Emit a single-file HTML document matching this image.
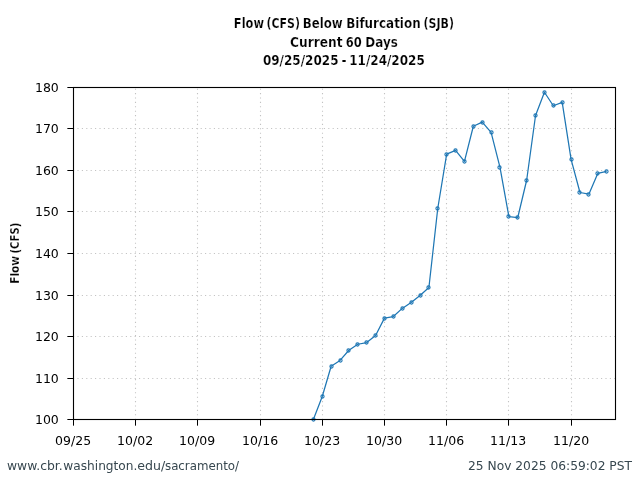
<!DOCTYPE html>
<html lang="en">
<head>
<meta charset="utf-8">
<title>Flow (CFS) Below Bifurcation (SJB)</title>
<style>
html,body{margin:0;padding:0;background:#fff;}
body{width:640px;height:480px;overflow:hidden;}
svg{display:block;}
.tick{font-family:"DejaVu Sans","Liberation Sans",sans-serif;font-size:12.5px;fill:#000;}
.ttl{font-family:"DejaVu Sans Condensed","DejaVu Sans","Liberation Sans",sans-serif;font-stretch:condensed;font-weight:bold;font-size:13.8px;fill:#000;stroke:#fff;stroke-width:0.2px;}
.foot{font-family:"DejaVu Sans","Liberation Sans",sans-serif;font-size:12.0px;fill:#37474f;}
</style>
</head>
<body>
<svg width="640" height="480" viewBox="0 0 640 480">
<rect width="640" height="480" fill="#fff"/>

<g stroke="#c2c2c2" stroke-width="1.1" stroke-dasharray="1.1 3.3" fill="none">
<path d="M135.5 419.75 V87.5"/>
<path d="M197.5 419.75 V87.5"/>
<path d="M260.5 419.75 V87.5"/>
<path d="M322.5 419.75 V87.5"/>
<path d="M384.5 419.75 V87.5"/>
<path d="M446.5 419.75 V87.5"/>
<path d="M508.5 419.75 V87.5"/>
<path d="M571.5 419.75 V87.5"/>
<path d="M73.05 378.5 H615.5"/>
<path d="M73.05 336.5 H615.5"/>
<path d="M73.05 295.5 H615.5"/>
<path d="M73.05 253.5 H615.5"/>
<path d="M73.05 211.5 H615.5"/>
<path d="M73.05 170.5 H615.5"/>
<path d="M73.05 128.5 H615.5"/>
</g>
<clipPath id="c"><rect x="73.5" y="87.5" width="542.0" height="332.0"/></clipPath>
<g clip-path="url(#c)"><polyline points="313.36,419.50 322.25,396.47 331.14,366.26 340.03,360.40 348.91,350.24 357.80,344.26 366.69,342.52 375.57,335.50 384.46,318.12 393.35,316.58 402.23,308.40 411.12,302.51 420.01,295.50 428.90,287.53 437.78,208.26 446.67,154.11 455.56,150.37 464.44,161.37 473.33,126.26 482.22,122.11 491.10,132.32 499.99,167.39 508.88,216.56 517.76,217.52 526.65,180.25 535.54,115.51 544.43,92.27 553.31,105.76 562.20,102.44 571.09,159.42 579.97,192.50 588.86,194.15 597.75,173.40 606.63,171.33" fill="none" stroke="#1f77b4" stroke-width="1.25" stroke-linejoin="round"/>
</g>
<g fill="none" stroke="#1f77b4" stroke-width="1.1">
<circle cx="313.5" cy="419.5" r="1.6"/>
<circle cx="322.5" cy="396.5" r="1.6"/>
<circle cx="331.5" cy="366.5" r="1.6"/>
<circle cx="340.5" cy="360.5" r="1.6"/>
<circle cx="348.5" cy="350.5" r="1.6"/>
<circle cx="357.5" cy="344.5" r="1.6"/>
<circle cx="366.5" cy="342.5" r="1.6"/>
<circle cx="375.5" cy="335.5" r="1.6"/>
<circle cx="384.5" cy="318.5" r="1.6"/>
<circle cx="393.5" cy="316.5" r="1.6"/>
<circle cx="402.5" cy="308.5" r="1.6"/>
<circle cx="411.5" cy="302.5" r="1.6"/>
<circle cx="420.5" cy="295.5" r="1.6"/>
<circle cx="428.5" cy="287.5" r="1.6"/>
<circle cx="437.5" cy="208.5" r="1.6"/>
<circle cx="446.5" cy="154.5" r="1.6"/>
<circle cx="455.5" cy="150.5" r="1.6"/>
<circle cx="464.5" cy="161.5" r="1.6"/>
<circle cx="473.5" cy="126.5" r="1.6"/>
<circle cx="482.5" cy="122.5" r="1.6"/>
<circle cx="491.5" cy="132.5" r="1.6"/>
<circle cx="499.5" cy="167.5" r="1.6"/>
<circle cx="508.5" cy="216.5" r="1.6"/>
<circle cx="517.5" cy="217.5" r="1.6"/>
<circle cx="526.5" cy="180.5" r="1.6"/>
<circle cx="535.5" cy="115.5" r="1.6"/>
<circle cx="544.5" cy="92.5" r="1.6"/>
<circle cx="553.5" cy="105.5" r="1.6"/>
<circle cx="562.5" cy="102.5" r="1.6"/>
<circle cx="571.5" cy="159.5" r="1.6"/>
<circle cx="579.5" cy="192.5" r="1.6"/>
<circle cx="588.5" cy="194.5" r="1.6"/>
<circle cx="597.5" cy="173.5" r="1.6"/>
<circle cx="606.5" cy="171.5" r="1.6"/>
</g>
<rect x="73.5" y="87.5" width="542.0" height="332.0" fill="none" stroke="#000" stroke-width="1.11"/>
<g stroke="#000" stroke-width="1.05">
<path d="M73.5 419.5 v6.15"/>
<path d="M135.5 419.5 v6.15"/>
<path d="M197.5 419.5 v6.15"/>
<path d="M260.5 419.5 v6.15"/>
<path d="M322.5 419.5 v6.15"/>
<path d="M384.5 419.5 v6.15"/>
<path d="M446.5 419.5 v6.15"/>
<path d="M508.5 419.5 v6.15"/>
<path d="M571.5 419.5 v6.15"/>
<path d="M73.5 419.5 h-6.15"/>
<path d="M73.5 378.5 h-6.15"/>
<path d="M73.5 336.5 h-6.15"/>
<path d="M73.5 295.5 h-6.15"/>
<path d="M73.5 253.5 h-6.15"/>
<path d="M73.5 211.5 h-6.15"/>
<path d="M73.5 170.5 h-6.15"/>
<path d="M73.5 128.5 h-6.15"/>
<path d="M73.5 87.5 h-6.15"/>
</g>
<text class="tick" x="73.10" y="445" text-anchor="middle">09/25</text>
<text class="tick" x="135.10" y="445" text-anchor="middle">10/02</text>
<text class="tick" x="197.10" y="445" text-anchor="middle">10/09</text>
<text class="tick" x="260.10" y="445" text-anchor="middle">10/16</text>
<text class="tick" x="322.10" y="445" text-anchor="middle">10/23</text>
<text class="tick" x="384.10" y="445" text-anchor="middle">10/30</text>
<text class="tick" x="446.10" y="445" text-anchor="middle">11/06</text>
<text class="tick" x="508.10" y="445" text-anchor="middle">11/13</text>
<text class="tick" x="571.10" y="445" text-anchor="middle">11/20</text>
<text class="tick" x="58.8" y="424.10" text-anchor="end">100</text>
<text class="tick" x="58.8" y="383.10" text-anchor="end">110</text>
<text class="tick" x="58.8" y="341.10" text-anchor="end">120</text>
<text class="tick" x="58.8" y="300.10" text-anchor="end">130</text>
<text class="tick" x="58.8" y="258.10" text-anchor="end">140</text>
<text class="tick" x="58.8" y="216.10" text-anchor="end">150</text>
<text class="tick" x="58.8" y="175.10" text-anchor="end">160</text>
<text class="tick" x="58.8" y="133.10" text-anchor="end">170</text>
<text class="tick" x="58.8" y="92.10" text-anchor="end">180</text>
<text class="ttl" y="27.65"><tspan x="233.86" textLength="30.18" lengthAdjust="spacingAndGlyphs">Flow</tspan> <tspan x="266.51" textLength="33.48" lengthAdjust="spacingAndGlyphs">(CFS)</tspan> <tspan x="302.68" textLength="40.00" lengthAdjust="spacingAndGlyphs">Below</tspan> <tspan x="346.22" textLength="74.43" lengthAdjust="spacingAndGlyphs">Bifurcation</tspan> <tspan x="423.61" textLength="30.38" lengthAdjust="spacingAndGlyphs">(SJB)</tspan></text>
<text class="ttl" y="46.5"><tspan x="289.99" textLength="52.48" lengthAdjust="spacingAndGlyphs">Current</tspan> <tspan x="345.71" textLength="16.00" lengthAdjust="spacingAndGlyphs">60</tspan> <tspan x="365.32" textLength="32.48" lengthAdjust="spacingAndGlyphs">Days</tspan></text>
<text class="ttl" y="65.2"><tspan x="262.90" textLength="75.60" lengthAdjust="spacingAndGlyphs">09/25/2025</tspan> <tspan x="341.59" textLength="5.06" lengthAdjust="spacingAndGlyphs">-</tspan> <tspan x="349.17" textLength="75.67" lengthAdjust="spacingAndGlyphs">11/24/2025</tspan></text>
<text class="ttl" style="font-size:12.8px" transform="translate(18.7 283) rotate(-90)" y="0"><tspan x="-0.82" textLength="27.97" lengthAdjust="spacingAndGlyphs">Flow</tspan> <tspan x="29.42" textLength="31.08" lengthAdjust="spacingAndGlyphs">(CFS)</tspan></text>
<text class="foot" y="469.7"><tspan x="6.98" textLength="55.72" lengthAdjust="spacingAndGlyphs">www.cbr.</tspan><tspan x="63.29" textLength="74.13" lengthAdjust="spacingAndGlyphs">washington.</tspan><tspan x="137.35" textLength="27.88" lengthAdjust="spacingAndGlyphs">edu/</tspan><tspan x="164.98" textLength="74.12" lengthAdjust="spacingAndGlyphs">sacramento/</tspan></text>
<text class="foot" y="469.7"><tspan x="468.01" textLength="164.03" lengthAdjust="spacingAndGlyphs">25 Nov 2025 06:59:02 PST</tspan></text>
</svg>
</body>
</html>
